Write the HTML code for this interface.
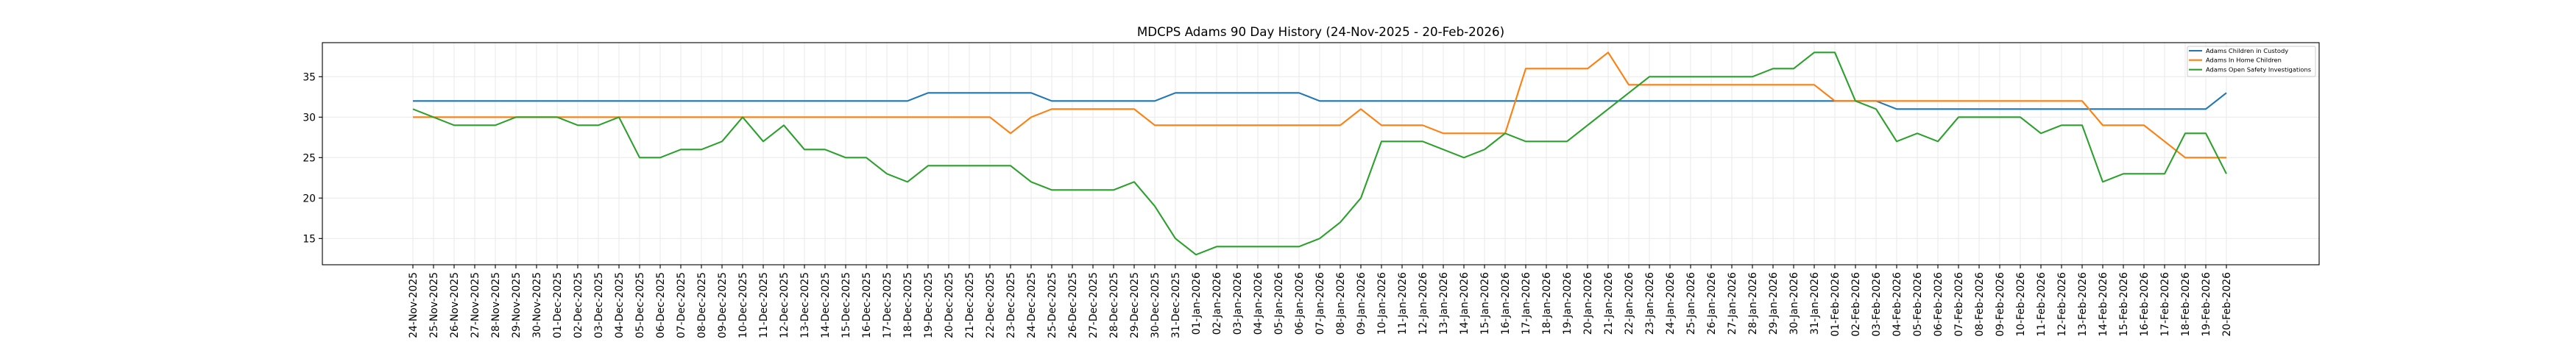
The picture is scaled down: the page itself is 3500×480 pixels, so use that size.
<!DOCTYPE html>
<html><head><meta charset="utf-8"><style>
html,body{margin:0;padding:0;background:#fff;}
svg{display:block;font-family:"DejaVu Sans","Liberation Sans",sans-serif;}
</style></head><body>
<svg width="3500" height="480" viewBox="0 0 3500 480" xmlns="http://www.w3.org/2000/svg">
<rect width="3500" height="480" fill="#fff"/>
<text x="1794.5" y="49" font-size="16.7" text-anchor="middle" fill="#000">MDCPS Adams 90 Day History (24-Nov-2025 - 20-Feb-2026)</text>
<!-- grid -->
<g stroke="#ebebeb" stroke-width="1.1">
<path d="M438 104.3H3151M438 159.3H3151M438 214.3H3151M438 269.3H3151M438 324.3H3151"/>
<g transform="translate(561,0)">
<path id="vg" d="M0 58V360M28 58V360M56 58V360M84 58V360M112 58V360M140 58V360M168 58V360M196 58V360M224 58V360M252 58V360M280 58V360M308 58V360M336 58V360M364 58V360M392 58V360M420 58V360M448 58V360M476 58V360M504 58V360M532 58V360M560 58V360M588 58V360M616 58V360M644 58V360M672 58V360M700 58V360M728 58V360M756 58V360M784 58V360M812 58V360M840 58V360M868 58V360M896 58V360M924 58V360M952 58V360M980 58V360M1008 58V360M1036 58V360M1064 58V360M1092 58V360M1120 58V360M1148 58V360M1176 58V360M1204 58V360M1232 58V360M1260 58V360M1288 58V360M1316 58V360M1344 58V360M1372 58V360M1400 58V360M1428 58V360M1456 58V360M1484 58V360M1512 58V360M1540 58V360M1568 58V360M1596 58V360M1624 58V360M1652 58V360M1680 58V360M1708 58V360M1736 58V360M1764 58V360M1792 58V360M1820 58V360M1848 58V360M1876 58V360M1904 58V360M1932 58V360M1960 58V360M1988 58V360M2016 58V360M2044 58V360M2072 58V360M2100 58V360M2128 58V360M2156 58V360M2184 58V360M2212 58V360M2240 58V360M2268 58V360M2296 58V360M2324 58V360M2352 58V360M2380 58V360M2408 58V360M2436 58V360M2464 58V360"/>
</g>
</g>
<!-- series -->
<g transform="translate(561,489.3) scale(28,-11)" fill="none" stroke-width="2.1" stroke-linejoin="round">
<polyline vector-effect="non-scaling-stroke" stroke="#1f77b4" points="0,32 24,32 25,33 30,33 31,32 36,32 37,33 43,33 44,32 71,32 72,31 87,31 88,33"/>
<polyline vector-effect="non-scaling-stroke" stroke="#ff7f0e" points="0,30 28,30 29,28 30,30 31,31 35,31 36,29 45,29 46,31 47,29 49,29 50,28 53,28 54,36 57,36 58,38 59,34 68,34 69,32 81,32 82,29 84,29 85,27 86,25 88,25"/>
<polyline vector-effect="non-scaling-stroke" stroke="#2ca02c" points="0,31 1,30 2,29 3,29 4,29 5,30 6,30 7,30 8,29 9,29 10,30 11,25 12,25 13,26 14,26 15,27 16,30 17,27 18,29 19,26 20,26 21,25 22,25 23,23 24,22 25,24 26,24 27,24 28,24 29,24 30,22 31,21 32,21 33,21 34,21 35,22 36,19 37,15 38,13 39,14 40,14 41,14 42,14 43,14 44,15 45,17 46,20 47,27 48,27 49,27 50,26 51,25 52,26 53,28 54,27 55,27 56,27 57,29 58,31 59,33 60,35 61,35 62,35 63,35 64,35 65,35 66,36 67,36 68,38 69,38 70,32 71,31 72,27 73,28 74,27 75,30 76,30 77,30 78,30 79,28 80,29 81,29 82,22 83,23 84,23 85,23 86,28 87,28 88,23"/>
</g>
<!-- axes box -->
<rect x="438" y="58" width="2713" height="302" fill="none" stroke="#000" stroke-width="1.1"/>
<!-- y ticks -->
<g stroke="#000" stroke-width="1.1"><path d="M433 104.3H438M433 159.3H438M433 214.3H438M433 269.3H438M433 324.3H438"/></g>
<g font-size="13.9" text-anchor="end" fill="#000">
<text x="429" y="109.3">35</text><text x="429" y="164.3">30</text><text x="429" y="219.3">25</text><text x="429" y="274.3">20</text><text x="429" y="329.3">15</text>
</g>
<!-- x ticks -->
<g transform="translate(561,0)" stroke="#000" stroke-width="1.1">
<path d="M0 360v5M28 360v5M56 360v5M84 360v5M112 360v5M140 360v5M168 360v5M196 360v5M224 360v5M252 360v5M280 360v5M308 360v5M336 360v5M364 360v5M392 360v5M420 360v5M448 360v5M476 360v5M504 360v5M532 360v5M560 360v5M588 360v5M616 360v5M644 360v5M672 360v5M700 360v5M728 360v5M756 360v5M784 360v5M812 360v5M840 360v5M868 360v5M896 360v5M924 360v5M952 360v5M980 360v5M1008 360v5M1036 360v5M1064 360v5M1092 360v5M1120 360v5M1148 360v5M1176 360v5M1204 360v5M1232 360v5M1260 360v5M1288 360v5M1316 360v5M1344 360v5M1372 360v5M1400 360v5M1428 360v5M1456 360v5M1484 360v5M1512 360v5M1540 360v5M1568 360v5M1596 360v5M1624 360v5M1652 360v5M1680 360v5M1708 360v5M1736 360v5M1764 360v5M1792 360v5M1820 360v5M1848 360v5M1876 360v5M1904 360v5M1932 360v5M1960 360v5M1988 360v5M2016 360v5M2044 360v5M2072 360v5M2100 360v5M2128 360v5M2156 360v5M2184 360v5M2212 360v5M2240 360v5M2268 360v5M2296 360v5M2324 360v5M2352 360v5M2380 360v5M2408 360v5M2436 360v5M2464 360v5"/>
</g>
<g font-size="13.9" text-anchor="end" fill="#000">
<text transform="translate(566,370) rotate(-90)">24-Nov-2025</text>
<text transform="translate(594,370) rotate(-90)">25-Nov-2025</text>
<text transform="translate(622,370) rotate(-90)">26-Nov-2025</text>
<text transform="translate(650,370) rotate(-90)">27-Nov-2025</text>
<text transform="translate(678,370) rotate(-90)">28-Nov-2025</text>
<text transform="translate(706,370) rotate(-90)">29-Nov-2025</text>
<text transform="translate(734,370) rotate(-90)">30-Nov-2025</text>
<text transform="translate(762,370) rotate(-90)">01-Dec-2025</text>
<text transform="translate(790,370) rotate(-90)">02-Dec-2025</text>
<text transform="translate(818,370) rotate(-90)">03-Dec-2025</text>
<text transform="translate(846,370) rotate(-90)">04-Dec-2025</text>
<text transform="translate(874,370) rotate(-90)">05-Dec-2025</text>
<text transform="translate(902,370) rotate(-90)">06-Dec-2025</text>
<text transform="translate(930,370) rotate(-90)">07-Dec-2025</text>
<text transform="translate(958,370) rotate(-90)">08-Dec-2025</text>
<text transform="translate(986,370) rotate(-90)">09-Dec-2025</text>
<text transform="translate(1014,370) rotate(-90)">10-Dec-2025</text>
<text transform="translate(1042,370) rotate(-90)">11-Dec-2025</text>
<text transform="translate(1070,370) rotate(-90)">12-Dec-2025</text>
<text transform="translate(1098,370) rotate(-90)">13-Dec-2025</text>
<text transform="translate(1126,370) rotate(-90)">14-Dec-2025</text>
<text transform="translate(1154,370) rotate(-90)">15-Dec-2025</text>
<text transform="translate(1182,370) rotate(-90)">16-Dec-2025</text>
<text transform="translate(1210,370) rotate(-90)">17-Dec-2025</text>
<text transform="translate(1238,370) rotate(-90)">18-Dec-2025</text>
<text transform="translate(1266,370) rotate(-90)">19-Dec-2025</text>
<text transform="translate(1294,370) rotate(-90)">20-Dec-2025</text>
<text transform="translate(1322,370) rotate(-90)">21-Dec-2025</text>
<text transform="translate(1350,370) rotate(-90)">22-Dec-2025</text>
<text transform="translate(1378,370) rotate(-90)">23-Dec-2025</text>
<text transform="translate(1406,370) rotate(-90)">24-Dec-2025</text>
<text transform="translate(1434,370) rotate(-90)">25-Dec-2025</text>
<text transform="translate(1462,370) rotate(-90)">26-Dec-2025</text>
<text transform="translate(1490,370) rotate(-90)">27-Dec-2025</text>
<text transform="translate(1518,370) rotate(-90)">28-Dec-2025</text>
<text transform="translate(1546,370) rotate(-90)">29-Dec-2025</text>
<text transform="translate(1574,370) rotate(-90)">30-Dec-2025</text>
<text transform="translate(1602,370) rotate(-90)">31-Dec-2025</text>
<text transform="translate(1630,370) rotate(-90)">01-Jan-2026</text>
<text transform="translate(1658,370) rotate(-90)">02-Jan-2026</text>
<text transform="translate(1686,370) rotate(-90)">03-Jan-2026</text>
<text transform="translate(1714,370) rotate(-90)">04-Jan-2026</text>
<text transform="translate(1742,370) rotate(-90)">05-Jan-2026</text>
<text transform="translate(1770,370) rotate(-90)">06-Jan-2026</text>
<text transform="translate(1798,370) rotate(-90)">07-Jan-2026</text>
<text transform="translate(1826,370) rotate(-90)">08-Jan-2026</text>
<text transform="translate(1854,370) rotate(-90)">09-Jan-2026</text>
<text transform="translate(1882,370) rotate(-90)">10-Jan-2026</text>
<text transform="translate(1910,370) rotate(-90)">11-Jan-2026</text>
<text transform="translate(1938,370) rotate(-90)">12-Jan-2026</text>
<text transform="translate(1966,370) rotate(-90)">13-Jan-2026</text>
<text transform="translate(1994,370) rotate(-90)">14-Jan-2026</text>
<text transform="translate(2022,370) rotate(-90)">15-Jan-2026</text>
<text transform="translate(2050,370) rotate(-90)">16-Jan-2026</text>
<text transform="translate(2078,370) rotate(-90)">17-Jan-2026</text>
<text transform="translate(2106,370) rotate(-90)">18-Jan-2026</text>
<text transform="translate(2134,370) rotate(-90)">19-Jan-2026</text>
<text transform="translate(2162,370) rotate(-90)">20-Jan-2026</text>
<text transform="translate(2190,370) rotate(-90)">21-Jan-2026</text>
<text transform="translate(2218,370) rotate(-90)">22-Jan-2026</text>
<text transform="translate(2246,370) rotate(-90)">23-Jan-2026</text>
<text transform="translate(2274,370) rotate(-90)">24-Jan-2026</text>
<text transform="translate(2302,370) rotate(-90)">25-Jan-2026</text>
<text transform="translate(2330,370) rotate(-90)">26-Jan-2026</text>
<text transform="translate(2358,370) rotate(-90)">27-Jan-2026</text>
<text transform="translate(2386,370) rotate(-90)">28-Jan-2026</text>
<text transform="translate(2414,370) rotate(-90)">29-Jan-2026</text>
<text transform="translate(2442,370) rotate(-90)">30-Jan-2026</text>
<text transform="translate(2470,370) rotate(-90)">31-Jan-2026</text>
<text transform="translate(2498,370) rotate(-90)">01-Feb-2026</text>
<text transform="translate(2526,370) rotate(-90)">02-Feb-2026</text>
<text transform="translate(2554,370) rotate(-90)">03-Feb-2026</text>
<text transform="translate(2582,370) rotate(-90)">04-Feb-2026</text>
<text transform="translate(2610,370) rotate(-90)">05-Feb-2026</text>
<text transform="translate(2638,370) rotate(-90)">06-Feb-2026</text>
<text transform="translate(2666,370) rotate(-90)">07-Feb-2026</text>
<text transform="translate(2694,370) rotate(-90)">08-Feb-2026</text>
<text transform="translate(2722,370) rotate(-90)">09-Feb-2026</text>
<text transform="translate(2750,370) rotate(-90)">10-Feb-2026</text>
<text transform="translate(2778,370) rotate(-90)">11-Feb-2026</text>
<text transform="translate(2806,370) rotate(-90)">12-Feb-2026</text>
<text transform="translate(2834,370) rotate(-90)">13-Feb-2026</text>
<text transform="translate(2862,370) rotate(-90)">14-Feb-2026</text>
<text transform="translate(2890,370) rotate(-90)">15-Feb-2026</text>
<text transform="translate(2918,370) rotate(-90)">16-Feb-2026</text>
<text transform="translate(2946,370) rotate(-90)">17-Feb-2026</text>
<text transform="translate(2974,370) rotate(-90)">18-Feb-2026</text>
<text transform="translate(3002,370) rotate(-90)">19-Feb-2026</text>
<text transform="translate(3030,370) rotate(-90)">20-Feb-2026</text>
</g>
<!-- legend -->
<rect x="2972" y="63" width="174" height="41" rx="2" fill="#fff" fill-opacity="0.8" stroke="#cccccc" stroke-width="1"/>
<g stroke-width="2.1">
<line x1="2974" y1="69" x2="2992" y2="69" stroke="#1f77b4"/>
<line x1="2974" y1="81.7" x2="2992" y2="81.7" stroke="#ff7f0e"/>
<line x1="2974" y1="94.7" x2="2992" y2="94.7" stroke="#2ca02c"/>
</g>
<g font-size="8.3" fill="#000">
<text x="2997" y="72">Adams Children in Custody</text>
<text x="2997" y="84.7">Adams In Home Children</text>
<text x="2997" y="97.7">Adams Open Safety Investigations</text>
</g>
</svg>
</body></html>
